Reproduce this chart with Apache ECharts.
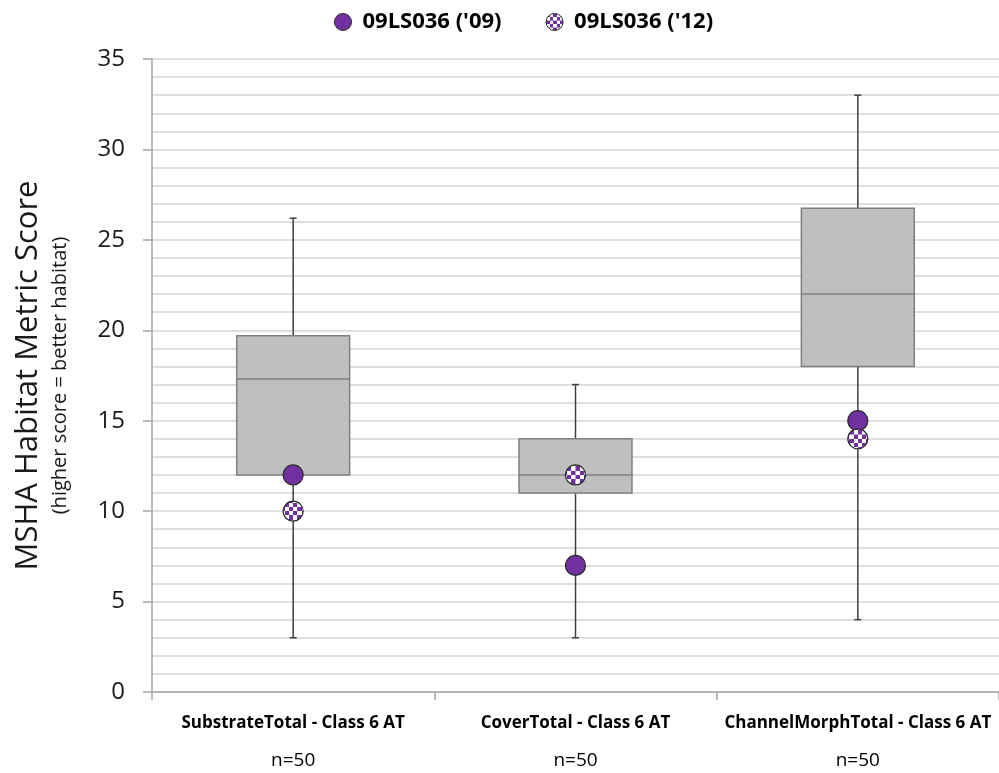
<!DOCTYPE html>
<html>
<head>
<meta charset="utf-8">
<script src="https://cdn.jsdelivr.net/npm/echarts@6/dist/echarts.min.js"></script>
<style>
html,body{margin:0;padding:0;background:#fff;}
#chart{width:999px;height:773px;}
</style>
</head>
<body>
<div id="chart"></div>
<script>
// ---- data ----
const categories = ['SubstrateTotal - Class 6 AT', 'CoverTotal - Class 6 AT', 'ChannelMorphTotal - Class 6 AT'];
const sampleSizes = ['n=50', 'n=50', 'n=50'];
// [min, Q1, median, Q3, max]
const boxMin    = [3, 3, 4];
const boxQ1     = [12, 11, 18];
const boxMedian = [17.3, 12, 22];
const boxQ3     = [19.7, 14, 26.75];
const boxMax    = [26.2, 17, 33];
const site09 = [12, 7, 15];
const site12 = [10, 12, 14];
const seriesNames = ["09LS036 ('09)", "09LS036 ('12)"];
const yTicks = [0, 5, 10, 15, 20, 25, 30, 35];

const FONT = '"Open Sans", sans-serif';
const PURPLE = '#7030a0';
const SYMBOL_SIZE = 20;

// checker pattern (high-res canvas, scaled down)
const pc = document.createElement('canvas');
pc.width = 100; pc.height = 100;
const pctx = pc.getContext('2d');
pctx.fillStyle = '#ffffff'; pctx.fillRect(0, 0, 100, 100);
pctx.fillStyle = PURPLE;
pctx.fillRect(0, 0, 50, 50); pctx.fillRect(50, 50, 50, 50);
// symbol paths are drawn at unit size and scaled by size/2
const symScale = 2 / SYMBOL_SIZE;
const squarePx = 4.3;
const patSymbol = {image: pc, repeat: 'repeat', scaleX: symScale * squarePx / 50, scaleY: symScale * squarePx / 50};
const patLegend = {image: pc, repeat: 'repeat', scaleX: 3.5 / 50, scaleY: 3.5 / 50};

const boxData = categories.map((c, i) => [i, boxMin[i], boxQ1[i], boxMedian[i], boxQ3[i], boxMax[i]]);

const chart = echarts.init(document.getElementById('chart'), null, {renderer: 'canvas'});
chart.setOption({
  animation: false,
  backgroundColor: '#ffffff',
  textStyle: {fontFamily: FONT},
  legend: {
    top: 6, left: 329,
    itemWidth: 17, itemHeight: 17, itemGap: 44,
    icon: 'circle',
    textStyle: {fontFamily: FONT, fontSize: 22, fontWeight: 'bold', color: '#000', padding: [0, 0, 0, 6]},
    data: [
      {name: seriesNames[0], itemStyle: {color: PURPLE, borderColor: '#2b2b2b', borderWidth: 1}},
      {name: seriesNames[1], itemStyle: {color: patLegend, borderColor: '#2b2b2b', borderWidth: 1}}
    ]
  },
  grid: {left: 152, top: 59, width: 849, height: 633},
  xAxis: {
    type: 'category',
    data: categories,
    boundaryGap: true,
    axisLine: {lineStyle: {color: '#a6a6a6', width: 1.5}},
    axisTick: {show: true, interval: 0, length: 8, lineStyle: {color: '#a6a6a6', width: 1.5}},
    axisLabel: {
      interval: 0, margin: 21,
      formatter: function (v, i) { return '{a|' + v + '}\n{b|' + sampleSizes[i] + '}'; },
      rich: {
        a: {fontFamily: FONT, fontSize: 17, fontWeight: 'bold', color: '#000', lineHeight: 20},
        b: {fontFamily: FONT, fontSize: 19, color: '#000', lineHeight: 56}
      }
    },
    splitLine: {show: false}
  },
  yAxis: {
    type: 'value',
    min: yTicks[0], max: yTicks[yTicks.length - 1], interval: 5,
    name: '{t|MSHA Habitat Metric Score}\n{s|(higher score = better habitat)}',
    nameLocation: 'middle',
    nameRotate: 90,
    nameGap: 80,
    nameTextStyle: {
      rich: {
        t: {fontFamily: FONT, fontSize: 31, color: '#1a1a1a', lineHeight: 40, align: 'center'},
        s: {fontFamily: FONT, fontSize: 20, color: '#1a1a1a', lineHeight: 24, align: 'center'}
      }
    },
    axisLine: {show: true, lineStyle: {color: '#a6a6a6', width: 1.5}},
    axisTick: {show: true, length: 9, lineStyle: {color: '#a6a6a6', width: 1.5}},
    axisLabel: {fontFamily: FONT, fontSize: 24, color: '#1a1a1a', margin: 27},
    splitLine: {show: true, lineStyle: {color: '#d4d4d4', width: 1.5}},
    minorTick: {show: false, splitNumber: 5},
    minorSplitLine: {show: true, lineStyle: {color: '#d4d4d4', width: 1.5}}
  },
  series: [
    {
      type: 'custom',
      name: 'box',
      z: 2,
      data: boxData,
      encode: {x: 0, y: [1, 2, 3, 4, 5]},
      renderItem: function (params, api) {
        const xi = api.value(0);
        const pMin = api.coord([xi, api.value(1)]);
        const pQ1 = api.coord([xi, api.value(2)]);
        const pMed = api.coord([xi, api.value(3)]);
        const pQ3 = api.coord([xi, api.value(4)]);
        const pMax = api.coord([xi, api.value(5)]);
        const bw = api.size([1, 0])[0] * 0.4;
        const cx = pMed[0];
        const wStyle = {stroke: '#404040', lineWidth: 1.5};
        const bStyle = {stroke: '#7f7f7f', lineWidth: 1.5};
        const cap = 3.5;
        return {
          type: 'group',
          children: [
            {type: 'line', shape: {x1: cx, y1: pMax[1], x2: cx, y2: pQ3[1]}, style: wStyle},
            {type: 'line', shape: {x1: cx, y1: pQ1[1], x2: cx, y2: pMin[1]}, style: wStyle},
            {type: 'line', shape: {x1: cx - cap, y1: pMax[1], x2: cx + cap, y2: pMax[1]}, style: wStyle},
            {type: 'line', shape: {x1: cx - cap, y1: pMin[1], x2: cx + cap, y2: pMin[1]}, style: wStyle},
            {type: 'rect', shape: {x: cx - bw / 2, y: pQ3[1], width: bw, height: pQ1[1] - pQ3[1]},
              style: {fill: '#bfbfbf', stroke: '#7f7f7f', lineWidth: 1.5}},
            {type: 'line', shape: {x1: cx - bw / 2, y1: pMed[1], x2: cx + bw / 2, y2: pMed[1]}, style: bStyle}
          ]
        };
      }
    },
    {
      type: 'scatter',
      name: seriesNames[0],
      z: 5,
      symbol: 'circle',
      symbolSize: SYMBOL_SIZE,
      itemStyle: {color: PURPLE, borderColor: '#2b2b2b', borderWidth: 1.2, opacity: 1},
      data: site09.map((v, i) => [i, v])
    },
    {
      type: 'scatter',
      name: seriesNames[1],
      z: 6,
      symbol: 'circle',
      symbolSize: SYMBOL_SIZE,
      itemStyle: {color: patSymbol, borderColor: '#2b2b2b', borderWidth: 1.2, opacity: 1},
      data: site12.map((v, i) => [i, v])
    }
  ]
});
</script>
</body>
</html>
